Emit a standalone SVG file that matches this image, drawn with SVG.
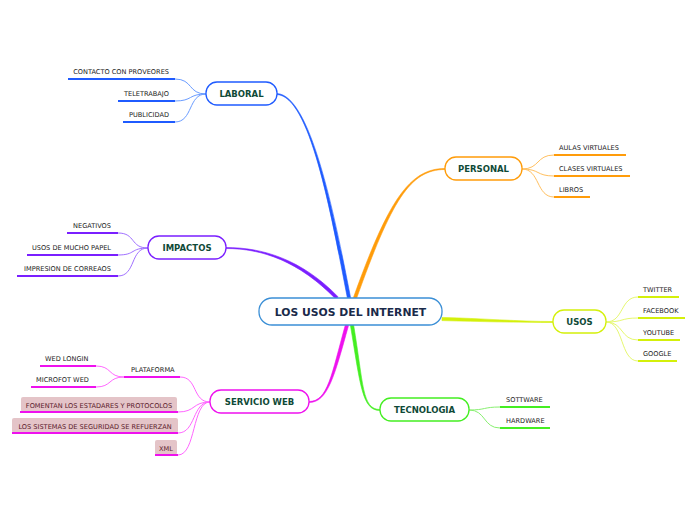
<svg xmlns="http://www.w3.org/2000/svg" width="696" height="520" viewBox="0 0 696 520">
<style>
.node{fill:#fff;stroke-width:1.3}
.nt{font-family:"DejaVu Sans",Verdana,sans-serif;font-weight:bold;font-size:8.5px;fill:#0f4a37;text-anchor:middle}
.lt{font-family:"DejaVu Sans",Verdana,sans-serif;font-size:6.6px;fill:#222}
.le{text-anchor:end}
.main{stroke-width:0.6;stroke-linejoin:round}
.sub{fill:none;stroke-width:1}
.ul{stroke-width:2}
.box{fill:#e4c4c8}
.bt{font-family:"DejaVu Sans",Verdana,sans-serif;font-size:6.6px;fill:#5a1a2a;text-anchor:middle}
</style>
<rect width="696" height="520" fill="#fff"/>
<g id="connectors">
<path class="main" fill="#1f5bff" stroke="#1f5bff" d="M350.57,297.7 C333.57,209.7 310.03,95.5 277.03,93.5 L276.97,94.5 C309.97,96.5 330.43,210.3 347.43,298.3 Z"/>
<path class="main" fill="#7a1fff" stroke="#7a1fff" d="M338.15,296.88 C301.15,258.88 262,247.5 226,247.5 L226,248.5 C262,248.5 298.85,261.12 335.85,299.12 Z"/>
<path class="main" fill="#ff9c0a" stroke="#ff9c0a" d="M356.51,298.54 C391.51,200.54 410,169.5 445,169.5 L445,168.5 C410,168.5 388.49,199.46 353.49,297.46 Z"/>
<path class="main" fill="#d4f00a" stroke="#d4f00a" d="M441.96,320.6 C479.96,321.6 520,322.5 553,322.5 L553,321.5 C520,321.5 480.04,318.4 442.04,317.4 Z"/>
<path class="main" fill="#44ee22" stroke="#44ee22" d="M353.58,324.74 C363.58,384.74 362,409.5 380,409.5 L380,410.5 C362,410.5 360.42,385.26 350.42,325.26 Z"/>
<path class="main" fill="#ee11ee" stroke="#ee11ee" d="M348.54,325.43 C334.54,375.43 328,402.5 309,402.5 L309,401.5 C328,401.5 331.46,374.57 345.46,324.57 Z"/>
<g stroke="#6a9cff">
<path class="sub" d="M206,94 C188,94 193,79 175,79"/>
<path class="sub" d="M206,94 C188,94 193,101 175,101"/>
<path class="sub" d="M206,94 C188,94 193,122 175,122"/>
</g>
<g stroke="#a070ff">
<path class="sub" d="M148,248 C130,248 136,233 118,233"/>
<path class="sub" d="M148,248 C130,248 136,255 118,255"/>
<path class="sub" d="M148,248 C130,248 136,276 118,276"/>
</g>
<g stroke="#ff66ff">
<path class="sub" d="M210,402 C192,402 198,377 180,377"/>
<path class="sub" d="M210,402 C192,402 196,412 178,412"/>
<path class="sub" d="M210,402 C192,402 196,433 178,433"/>
<path class="sub" d="M210,402 C192,402 196,455 178,455"/>
<path class="sub" d="M124,377 C108,377 112,366 96,366"/>
<path class="sub" d="M124,377 C108,377 112,387 96,387"/>
</g>
<g stroke="#ffc060">
<path class="sub" d="M522,169 C540,169 536,155 554,155"/>
<path class="sub" d="M522,169 C540,169 536,176 554,176"/>
<path class="sub" d="M522,169 C540,169 536,197 554,197"/>
</g>
<g stroke="#e6f870">
<path class="sub" d="M606,322 C624,322 620,297 638,297"/>
<path class="sub" d="M606,322 C624,322 620,318 638,318"/>
<path class="sub" d="M606,322 C624,322 620,340 638,340"/>
<path class="sub" d="M606,322 C624,322 620,361 638,361"/>
</g>
<g stroke="#88f070">
<path class="sub" d="M469,410 C486,410 483,407 500,407"/>
<path class="sub" d="M469,410 C486,410 483,428 500,428"/>
</g>
</g>
<g id="central">
<rect class="node" x="259" y="298" width="183" height="27" rx="13" stroke="#3b8fd6"/>
<text x="350.5" y="315.5" font-family="DejaVu Sans,Verdana,sans-serif" font-weight="bold" font-size="10.8" fill="#1a2a4a" text-anchor="middle">LOS USOS DEL INTERNET</text>
</g>
<g id="laboral">
<rect class="node" x="206" y="82" width="71" height="23" rx="11" stroke="#1f5bff"/>
<text class="nt" x="241.5" y="97">LABORAL</text>
</g>
<g id="laboral-children">
<line class="ul" x1="68" y1="79" x2="175" y2="79" stroke="#1f5bff"/>
<text class="lt le" x="169" y="74">CONTACTO CON PROVEORES</text>
<line class="ul" x1="118" y1="101" x2="175" y2="101" stroke="#1f5bff"/>
<text class="lt le" x="169" y="96">TELETRABAJO</text>
<line class="ul" x1="123" y1="122" x2="175" y2="122" stroke="#1f5bff"/>
<text class="lt le" x="169" y="117">PUBLICIDAD</text>
</g>
<g id="impactos">
<rect class="node" x="148" y="236" width="78" height="23" rx="11" stroke="#7a1fff"/>
<text class="nt" x="187" y="251">IMPACTOS</text>
</g>
<g id="impactos-children">
<line class="ul" x1="67" y1="233" x2="118" y2="233" stroke="#7a1fff"/>
<text class="lt le" x="111" y="228">NEGATIVOS</text>
<line class="ul" x1="27" y1="255" x2="118" y2="255" stroke="#7a1fff"/>
<text class="lt le" x="111" y="250">USOS DE MUCHO PAPEL</text>
<line class="ul" x1="17" y1="276" x2="118" y2="276" stroke="#7a1fff"/>
<text class="lt le" x="111" y="271">IMPRESION DE CORREAOS</text>
</g>
<g id="servicio-web">
<rect class="node" x="210" y="390" width="99" height="23" rx="11" stroke="#ee11ee"/>
<text class="nt" x="259.5" y="405">SERVICIO WEB</text>
</g>
<g id="servicio-children">
<line class="ul" x1="124" y1="377" x2="180" y2="377" stroke="#ee11ee"/>
<text class="lt" x="131" y="372">PLATAFORMA</text>
<line class="ul" x1="40" y1="366" x2="96" y2="366" stroke="#ee11ee"/>
<text class="lt" x="45" y="361">WED LONGIN</text>
<line class="ul" x1="31" y1="387" x2="96" y2="387" stroke="#ee11ee"/>
<text class="lt" x="36" y="382">MICROFOT WED</text>
<rect class="box" x="21" y="397" width="156" height="15" rx="2"/>
<line class="ul" x1="20" y1="412" x2="178" y2="412" stroke="#ee11ee"/>
<text class="bt" x="99" y="407.5">FOMENTAN LOS ESTADARES Y PROTOCOLOS</text>
<rect class="box" x="12" y="418" width="166" height="15" rx="2"/>
<line class="ul" x1="12" y1="433" x2="178" y2="433" stroke="#ee11ee"/>
<text class="bt" x="95" y="428.5">LOS SISTEMAS DE SEGURIDAD SE REFUERZAN</text>
<rect class="box" x="155" y="440" width="22" height="15" rx="2"/>
<line class="ul" x1="155" y1="455" x2="178" y2="455" stroke="#ee11ee"/>
<text class="bt" x="166" y="450.5">XML</text>
</g>
<g id="personal">
<rect class="node" x="445" y="157" width="77" height="23" rx="11" stroke="#ff9c0a"/>
<text class="nt" x="483.5" y="172">PERSONAL</text>
</g>
<g id="personal-children">
<line class="ul" x1="554" y1="155" x2="626" y2="155" stroke="#ff9c0a"/>
<text class="lt" x="559" y="150">AULAS VIRTUALES</text>
<line class="ul" x1="554" y1="176" x2="630" y2="176" stroke="#ff9c0a"/>
<text class="lt" x="559" y="171">CLASES VIRTUALES</text>
<line class="ul" x1="554" y1="197" x2="590" y2="197" stroke="#ff9c0a"/>
<text class="lt" x="559" y="192">LIBROS</text>
</g>
<g id="usos">
<rect class="node" x="553" y="310" width="53" height="23" rx="11" stroke="#d4f00a"/>
<text class="nt" x="579.5" y="325">USOS</text>
</g>
<g id="usos-children">
<line class="ul" x1="638" y1="297" x2="679" y2="297" stroke="#d4f00a"/>
<text class="lt" x="643" y="292">TWITTER</text>
<line class="ul" x1="638" y1="318" x2="685" y2="318" stroke="#d4f00a"/>
<text class="lt" x="643" y="313">FACEBOOK</text>
<line class="ul" x1="638" y1="340" x2="680" y2="340" stroke="#d4f00a"/>
<text class="lt" x="643" y="335">YOUTUBE</text>
<line class="ul" x1="638" y1="361" x2="677" y2="361" stroke="#d4f00a"/>
<text class="lt" x="643" y="356">GOOGLE</text>
</g>
<g id="tecnologia">
<rect class="node" x="380" y="398" width="89" height="23" rx="11" stroke="#44ee22"/>
<text class="nt" x="424.5" y="413">TECNOLOGIA</text>
</g>
<g id="tecnologia-children">
<line class="ul" x1="500" y1="407" x2="550" y2="407" stroke="#44ee22"/>
<text class="lt" x="506" y="402">SOTTWARE</text>
<line class="ul" x1="500" y1="428" x2="550" y2="428" stroke="#44ee22"/>
<text class="lt" x="506" y="423">HARDWARE</text>
</g>
</svg>
